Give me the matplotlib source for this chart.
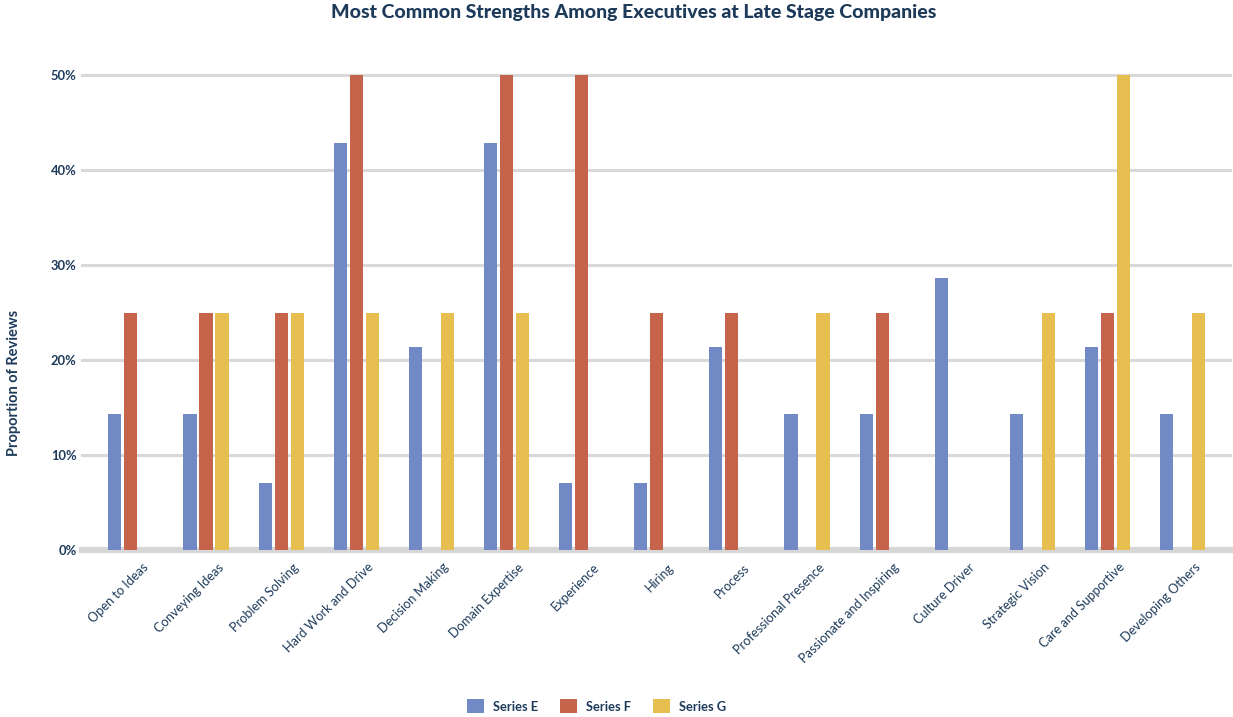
import numpy as np
import matplotlib.pyplot as plt
from matplotlib.patches import Patch

# categories and values (percent of reviews)
categories = ['Open to Ideas', 'Conveying Ideas', 'Problem Solving', 'Hard Work and Drive',
              'Decision Making', 'Domain Expertise', 'Experience', 'Hiring', 'Process',
              'Professional Presence', 'Passionate and Inspiring', 'Culture Driver',
              'Strategic Vision', 'Care and Supportive', 'Developing Others']
series_e = [14.3, 14.3, 7.1, 42.9, 21.4, 42.9, 7.1, 7.1, 21.4, 14.3, 14.3, 28.6, 14.3, 21.4, 14.3]
series_f = [25, 25, 25, 50, 0, 50, 50, 25, 25, 0, 25, 0, 0, 25, 0]
series_g = [0, 25, 25, 25, 25, 25, 0, 0, 0, 25, 0, 0, 25, 50, 25]
series_names = ['Series E', 'Series F', 'Series G']
colors = ['#7189c4', '#c5634b', '#e6bf50']
yticks = [0, 10, 20, 30, 40, 50]

text_col = '#1d3a5a'
plt.rcParams['font.family'] = ['Lato', 'DejaVu Sans']

fig = plt.figure(figsize=(12.33, 7.17), dpi=100)
ax = fig.add_axes([0.0665, 0.233, 0.931, 0.662])

x = np.arange(len(categories))
step = 0.213
width = 0.175
for i, (vals, c) in enumerate(zip([series_e, series_f, series_g], colors)):
    ax.bar(x + (i - 1) * step, vals, width, color=c, zorder=3, clip_on=False)

ax.set_xlim(-0.65, len(categories) - 1 + 0.63)
ax.set_ylim(0, 50)
ax.set_yticks(yticks)
ax.set_yticklabels(['%d%%' % t for t in yticks], fontsize=9.3, color=text_col, fontweight='bold')
for t in yticks:
    if t == 0:
        ax.axhline(t, color='#d6d6d6', lw=4.5, zorder=2, clip_on=False)
    else:
        ax.axhline(t, color='#d9d9d9', lw=2.2, zorder=1, clip_on=False)

# labels sit a little right of the group centre, as in the original
ax.set_xticks(x + 0.15)
ax.set_xticklabels(categories, rotation=45, ha='right', rotation_mode='anchor',
                   fontsize=9.2, color=text_col)
ax.tick_params(axis='both', length=0)
ax.tick_params(axis='x', pad=8)
ax.tick_params(axis='y', pad=4)
for s in ax.spines.values():
    s.set_visible(False)

fig.text(0.514, 0.983, 'Most Common Strengths Among Executives at Late Stage Companies',
         ha='center', va='center', fontsize=14, fontweight='black', color=text_col)
fig.text(0.011, 0.466, 'Proportion of Reviews', rotation=90, ha='center', va='center',
         fontsize=10.5, color=text_col, fontweight='bold')

handles = [Patch(facecolor=c, label=n) for c, n in zip(colors, series_names)]
leg = fig.legend(handles=handles, loc='center', bbox_to_anchor=(0.484, 0.015), ncol=3,
                 frameon=False, fontsize=9.3, handlelength=1.3, handleheight=1.3,
                 columnspacing=1.7, handletextpad=0.7)
for t in leg.get_texts():
    t.set_color(text_col)
    t.set_fontweight('bold')

fig.savefig('out.png', dpi=100)
